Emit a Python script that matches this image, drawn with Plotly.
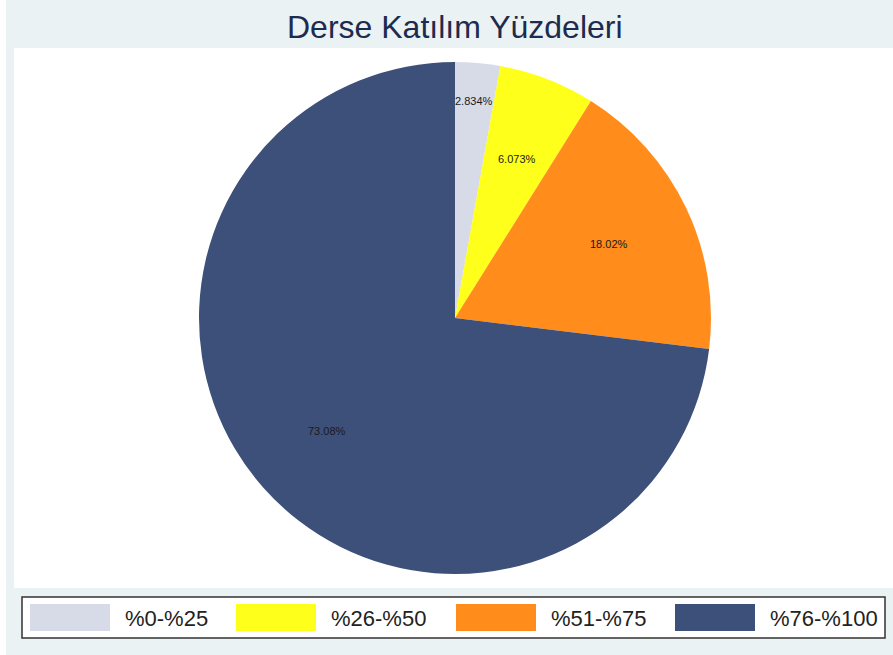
import numpy as np
import plotly.graph_objs as go

# data
categories = ["%0-%25", "%26-%50", "%51-%75", "%76-%100"]
percents = [2.834, 6.073, 18.02, 73.08]
labels = ["2.834%", "6.073%", "18.02%", "73.08%"]

colors = ["#D7DBE7", "#FFFF1C", "#FF8C1B", "#3D5079"]

W, H = 893, 655
cx, cy, R = 455, 318, 256          # pie centre / radius in pixels
label_r = [0.85, 0.667, 0.667, 0.667]


def px(x):
    return x / W


def py(y):
    return 1 - y / H


fig = go.Figure()

fig.add_trace(go.Pie(
    labels=categories,
    values=percents,
    sort=False,
    direction="clockwise",
    rotation=0,
    textinfo="none",
    showlegend=False,
    hoverinfo="label+percent",
    marker=dict(colors=colors, line=dict(width=0)),
    domain=dict(x=[px(cx - R), px(cx + R)], y=[py(cy + R), py(cy - R)]),
))

shapes = []
annotations = []

# white plot region on the light background
shapes.append(dict(type="rect", xref="paper", yref="paper", layer="below",
                   x0=px(14), x1=1, y0=py(588), y1=py(48),
                   fillcolor="white", line=dict(width=0)))
shapes.append(dict(type="rect", xref="paper", yref="paper", layer="below",
                   x0=0, x1=px(6), y0=0, y1=1,
                   fillcolor="white", line=dict(width=0)))

# slice labels, placed from cumulative share of each slice
total = sum(percents)
cum = np.cumsum([0] + percents[:-1])
for i, (p, c) in enumerate(zip(percents, cum)):
    theta = 2 * np.pi * (c + p / 2) / total
    r = label_r[i] * R
    annotations.append(dict(
        x=px(cx + r * np.sin(theta)), y=py(cy - r * np.cos(theta)),
        xref="paper", yref="paper", text=labels[i], showarrow=False,
        xanchor="center", yanchor="middle",
        font=dict(family="Liberation Sans, Arial", size=11, color="#1a1a1a"),
    ))

# title
annotations.append(dict(
    x=px(cx), y=py(27), xref="paper", yref="paper",
    text="Derse Katılım Yüzdeleri", showarrow=False,
    xanchor="center", yanchor="middle",
    font=dict(family="Liberation Sans, Arial", size=32, color="#1C2B4E"),
))

# legend box
shapes.append(dict(type="rect", xref="paper", yref="paper",
                   x0=px(22), x1=px(885), y0=py(638), y1=py(597),
                   fillcolor="white", line=dict(color="#333333", width=1.5)))
swatch_x = [30, 236, 456, 675]
for i, name in enumerate(categories):
    x0 = swatch_x[i]
    shapes.append(dict(type="rect", xref="paper", yref="paper",
                       x0=px(x0), x1=px(x0 + 80), y0=py(631), y1=py(604),
                       fillcolor=colors[i], line=dict(width=0)))
    annotations.append(dict(
        x=px(x0 + 93), y=py(618), xref="paper", yref="paper",
        text=name, showarrow=False, xanchor="left", yanchor="middle",
        font=dict(family="Liberation Sans, Arial", size=22, color="#222222"),
    ))

fig.update_layout(
    width=W, height=H,
    margin=dict(l=0, r=0, t=0, b=0),
    paper_bgcolor="#EAF2F3",
    plot_bgcolor="#EAF2F3",
    shapes=shapes,
    annotations=annotations,
    showlegend=False,
)

fig.write_html("out.html", config={"displayModeBar": False},
               post_script="document.body.style.margin='0';")
